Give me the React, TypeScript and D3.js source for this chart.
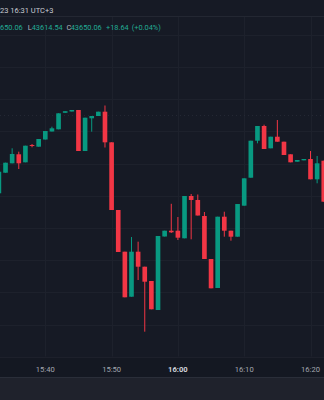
import React from "react";
import * as d3 from "d3";

const times = ["15:33","15:34","15:35","15:36","15:37","15:38","15:39","15:40","15:41","15:42","15:43","15:44","15:45","15:46","15:47","15:48","15:49","15:50","15:51","15:52","15:53","15:54","15:55","15:56","15:57","15:58","15:59","16:00","16:01","16:02","16:03","16:04","16:05","16:06","16:07","16:08","16:09","16:10","16:11","16:12","16:13","16:14","16:15","16:16","16:17","16:18","16:19","16:20","16:21","16:22"];
const opens = [43640.78,43647.17,43650.09,43652.89,43650.40,43655.78,43655.25,43657.48,43659.97,43660.65,43665.78,43666.18,43666.65,43653.91,43664.07,43664.78,43666.12,43656.61,43635.59,43622.64,43608.66,43622.64,43617.98,43613.54,43604.53,43627.36,43629.16,43629.16,43626.80,43639.94,43638.70,43633.73,43620.37,43611.37,43633.51,43629.16,43627.30,43636.93,43645.62,43657.11,43661.68,43654.75,43658.35,43656.80,43652.89,43650.59,43651.02,43651.43,43645.12,43650.90];
const highs = [43647.48,43650.28,43654.75,43653.70,43655.56,43656.09,43657.64,43660.12,43661.46,43665.62,43666.27,43666.65,43666.65,43664.25,43664.78,43666.12,43668.04,43656.61,43635.59,43622.64,43627.20,43625.75,43617.98,43613.54,43627.52,43629.16,43637.52,43633.42,43639.94,43640.56,43640.40,43634.97,43620.37,43633.51,43635.06,43629.16,43637.45,43645.43,43657.11,43661.68,43662.08,43658.35,43663.54,43656.80,43652.89,43651.12,43651.43,43653.91,43652.36,43650.90];
const lows = [43640.78,43647.17,43650.09,43648.32,43650.40,43655.06,43655.25,43657.48,43659.97,43660.65,43665.78,43666.18,43653.91,43653.91,43659.91,43664.78,43655.00,43635.59,43622.55,43608.48,43608.66,43613.85,43597.80,43604.75,43604.53,43627.36,43628.45,43626.27,43626.80,43626.49,43633.88,43620.37,43611.27,43611.37,43627.30,43626.06,43627.30,43636.93,43645.62,43656.30,43654.53,43654.75,43656.80,43652.67,43650.40,43650.59,43651.02,43645.12,43643.88,43638.17];
const closes = [43647.48,43650.28,43652.98,43650.09,43655.56,43655.56,43657.64,43660.12,43660.96,43665.62,43666.27,43666.65,43653.91,43664.25,43664.78,43666.12,43656.61,43635.59,43622.55,43608.48,43622.64,43617.98,43613.32,43604.75,43627.52,43629.16,43628.66,43626.99,43639.94,43638.70,43633.88,43620.37,43611.27,43633.51,43629.16,43627.30,43637.45,43645.43,43657.11,43661.68,43654.53,43658.35,43656.80,43652.67,43650.40,43651.12,43651.43,43645.12,43650.09,43638.17];
const tickLabels = ["15:40","15:50","16:00","16:10","16:20"];
const priceTicks = [43600,43610,43620,43630,43640,43650,43660,43670,43680,43690];
const dottedLevel = 43665.09;

const W = 324, H = 400;
const UP = "#089981", DOWN = "#f23645";

const toDate = (s: string) => {
  const [h, m] = s.split(":").map(Number);
  return new Date(2023, 11, 11, h, m);
};

export default function App() {
  const x = d3.scaleTime().domain([toDate("15:40"), toDate("16:20")]).range([45.3, 310.5]);
  const y = d3.scaleLinear().domain([43590, 43690]).range([356.8, 34.8]);
  const step = x(toDate("15:41")) - x(toDate("15:40"));
  const bw = step * 0.7;
  const chartTop = 17, chartBottom = y(43590);

  const candles = times.map((t, i) => ({
    t: toDate(t), o: opens[i], h: highs[i], l: lows[i], c: closes[i],
  }));

  const font = "Roboto, 'Noto Sans', sans-serif";

  return (
    <svg width={W} height={H} style={{ position: "fixed", left: 0, top: 0, display: "block" }}>
      <rect x={0} y={0} width={W} height={H} fill="#161a25" />
      <defs>
        <clipPath id="plot">
          <rect x={0} y={chartTop} width={W} height={chartBottom - chartTop} />
        </clipPath>
      </defs>
      <line x1={0} x2={W} y1={16.5} y2={16.5} stroke="#232732" strokeWidth={1} />
      {priceTicks.map((p) => (
        <line key={p} x1={0} x2={W} y1={Math.round(y(p)) + 0.5} y2={Math.round(y(p)) + 0.5} stroke="#1d212c" strokeWidth={1} />
      ))}
      {tickLabels.map((t) => (
        <line key={t} x1={Math.round(x(toDate(t))) + 0.5} x2={Math.round(x(toDate(t))) + 0.5} y1={chartTop} y2={chartBottom} stroke="#1d212c" strokeWidth={1} />
      ))}
      <line x1={0} x2={W} y1={Math.round(y(dottedLevel)) + 0.5} y2={Math.round(y(dottedLevel)) + 0.5} stroke="#242834" strokeWidth={1} strokeDasharray="1 3" />
      <g clipPath="url(#plot)">
        {candles.map((d, i) => {
          const cx = x(d.t);
          const col = d.c >= d.o ? UP : DOWN;
          const top = y(Math.max(d.o, d.c));
          const bot = y(Math.min(d.o, d.c));
          return (
            <g key={i}>
              <line x1={cx} x2={cx} y1={y(d.h)} y2={y(d.l)} stroke={col} strokeWidth={1} />
              <rect x={cx - bw / 2} y={top} width={bw} height={Math.max(1, bot - top)} fill={col} />
            </g>
          );
        })}
      </g>
      <rect x={0} y={chartBottom} width={W} height={377 - chartBottom} fill="#141822" />
      <line x1={0} x2={W} y1={chartBottom + 0.5} y2={chartBottom + 0.5} stroke="#20242f" />
      {tickLabels.map((t) => (
        <text key={t} x={x(toDate(t))} y={372} textAnchor="middle" fontFamily={font} fontSize={7.6}
          fill={t === "16:00" ? "#d1d4dc" : "#a3a6af"} fontWeight={t === "16:00" ? 700 : 400}>{t}</text>
      ))}
      <rect x={0} y={377} width={W} height={H - 377} fill="#1f222c" />
      <line x1={0} x2={W} y1={377.5} y2={377.5} stroke="#2a2e39" />
      <text x={0} y={12.5} fontFamily={font} fontSize={7.5} fill="#c9ccd4">23 16:31 UTC+3</text>
      <text y={29.8} fontFamily={font} fontSize={7.4}>
        <tspan x={0} fill="#22ab94">650.06</tspan>
        <tspan x={27.7} fill="#b2b5be">L</tspan>
        <tspan x={31.7} fill="#22ab94">43614.54</tspan>
        <tspan x={66.5} fill="#b2b5be">C</tspan>
        <tspan x={70.7} fill="#22ab94">43650.06</tspan>
        <tspan x={106} fill="#22ab94">+18.64</tspan>
        <tspan x={131.7} fill="#22ab94">(+0.04%)</tspan>
      </text>
    </svg>
  );
}
